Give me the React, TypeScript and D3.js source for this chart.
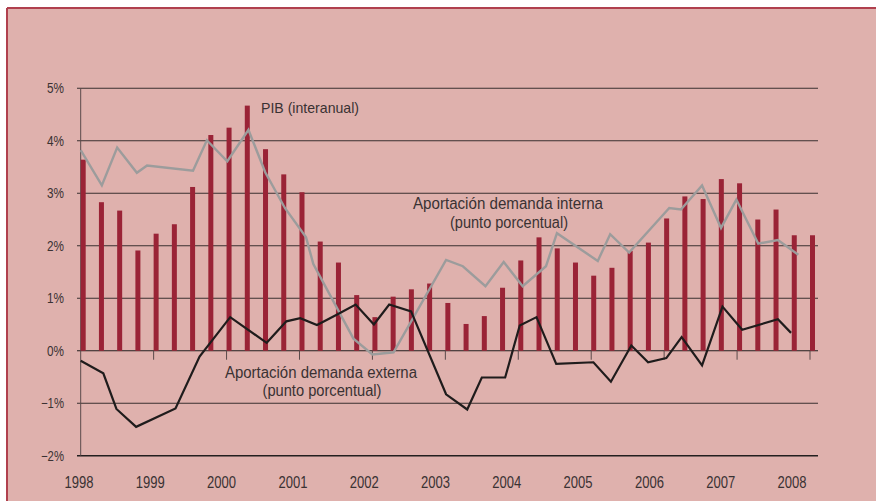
import * as d3 from 'd3';
import { useRef, useEffect } from 'react';

// PIB interanual, trimestral 1998T1 - 2008T1
const pib = [3.64, 2.83, 2.67, 1.91, 2.23, 2.41, 3.12, 4.11, 4.25, 4.67, 3.84, 3.36, 3.02, 2.08, 1.68,
  1.06, 0.64, 1.03, 1.17, 1.28, 0.91, 0.51, 0.66, 1.20, 1.72, 2.16, 1.95, 1.68, 1.43, 1.58, 1.90,
  2.06, 2.52, 2.94, 2.89, 3.27, 3.19, 2.50, 2.69, 2.20, 2.20];

// Aportación demanda interna (fecha decimal, punto porcentual)
const internaFechas = [1998.0, 1998.29, 1998.5, 1998.77, 1998.91, 1999.54, 1999.73, 2000.01, 2000.30, 2000.53,
  2000.80, 2001.09, 2001.19, 2001.74, 2002.0, 2002.29, 2003.01, 2003.24, 2003.55, 2003.80, 2004.06, 2004.38,
  2004.53, 2005.09, 2005.26, 2005.52, 2006.07, 2006.23, 2006.52, 2006.78, 2006.99, 2007.29, 2007.56, 2007.84];
const internaValores = [3.82, 3.15, 3.87, 3.39, 3.53, 3.43, 4.01, 3.61, 4.21, 3.40, 2.72, 2.16, 1.65, 0.23,
  -0.07, -0.03, 1.73, 1.61, 1.23, 1.69, 1.23, 1.61, 2.24, 1.71, 2.22, 1.87, 2.72, 2.69, 3.15, 2.34, 2.88,
  2.04, 2.11, 1.83];

// Aportación demanda externa
const externaFechas = [1998.0, 1998.31, 1998.49, 1998.76, 1999.30, 1999.63, 2000.05, 2000.55, 2000.82, 2001.01,
  2001.24, 2001.53, 2001.77, 2002.02, 2002.23, 2002.53, 2003.01, 2003.30, 2003.50, 2003.82, 2004.02, 2004.25,
  2004.52, 2005.03, 2005.27, 2005.55, 2005.78, 2006.03, 2006.24, 2006.52, 2006.80, 2007.07, 2007.56, 2007.74];
const externaValores = [-0.19, -0.43, -1.11, -1.45, -1.10, -0.11, 0.64, 0.15, 0.56, 0.62, 0.49, 0.70, 0.88,
  0.50, 0.88, 0.75, -0.83, -1.12, -0.51, -0.51, 0.48, 0.64, -0.25, -0.22, -0.59, 0.10, -0.22, -0.14, 0.26,
  -0.28, 0.84, 0.40, 0.60, 0.34];

const years = [1998, 1999, 2000, 2001, 2002, 2003, 2004, 2005, 2006, 2007, 2008];
const yTicks = [-2, -1, 0, 1, 2, 3, 4, 5];

export default function App() {
  const ref = useRef<SVGSVGElement>(null);

  useEffect(() => {
    const width = 876;
    const height = 501;
    const textColor = "#3a3233";

    const x = d3.scaleLinear().domain([1998, 2008]).range([80.7, 810]);
    const xLabel = d3.scaleLinear().domain([1998, 2008]).range([79, 792]);
    const y = d3.scaleLinear().domain([-2, 5]).range([455.7, 88.3]);

    const svg = d3.select(ref.current)
      .attr("width", width)
      .attr("height", height)
      .attr("viewBox", `0 0 ${width} ${height}`)
      .style("position", "absolute")
      .style("left", "0px")
      .style("top", "0px")
      .style("font-family", "'Liberation Sans', Arial, sans-serif");

    svg.selectAll("*").remove();

    // fondo + marco
    svg.append("rect").attr("width", width).attr("height", height).attr("fill", "#ffffff");
    svg.append("rect").attr("x", 7).attr("y", 8).attr("width", width - 7).attr("height", height - 8)
      .attr("fill", "#dfb1ad");
    svg.append("line").attr("x1", 7).attr("x2", width).attr("y1", 8).attr("y2", 8)
      .attr("stroke", "#b0404e").attr("stroke-width", 2);
    svg.append("line").attr("x1", 7).attr("x2", 7).attr("y1", 8).attr("y2", height)
      .attr("stroke", "#b0404e").attr("stroke-width", 2);

    // rejilla horizontal
    svg.append("g")
      .selectAll("line")
      .data(yTicks)
      .join("line")
        .attr("x1", 77)
        .attr("x2", 818)
        .attr("y1", d => y(d))
        .attr("y2", d => y(d))
        .attr("stroke", d => d === 0 || d === -2 ? "#231f1f" : "#3a3030")
        .attr("stroke-width", d => d === -2 ? 1.6 : 1.1);

    // eje vertical
    svg.append("line")
      .attr("x1", x(1998)).attr("x2", x(1998))
      .attr("y1", y(5)).attr("y2", y(-2))
      .attr("stroke", "#5a4a4a").attr("stroke-width", 1);

    // etiquetas eje y
    svg.append("g")
      .selectAll("text")
      .data(yTicks)
      .join("text")
        .attr("x", 64)
        .attr("y", d => y(d))
        .attr("dy", "0.35em")
        .attr("text-anchor", "end")
        .attr("font-size", 14)
        .attr("textLength", d => d < 0 ? 23 : 17)
        .attr("lengthAdjust", "spacingAndGlyphs")
        .attr("fill", textColor)
        .text(d => `${d < 0 ? "\u2212" : ""}${Math.abs(d)}%`);

    // barras PIB
    svg.append("g")
      .selectAll("rect")
      .data(pib)
      .join("rect")
        .attr("x", (d, i) => x(1998 + i / 4))
        .attr("y", d => y(d))
        .attr("width", 5)
        .attr("height", d => y(0) - y(d))
        .attr("fill", "#9a2336");

    // marcas de año sobre el eje 0
    svg.append("g")
      .selectAll("line")
      .data(years.slice(1))
      .join("line")
        .attr("x1", d => x(d))
        .attr("x2", d => x(d))
        .attr("y1", y(0))
        .attr("y2", y(0) + 9)
        .attr("stroke", "#5a4a4a")
        .attr("stroke-width", 1);

    // etiquetas de años
    svg.append("g")
      .selectAll("text")
      .data(years)
      .join("text")
        .attr("x", d => xLabel(d))
        .attr("y", 488)
        .attr("text-anchor", "middle")
        .attr("font-size", 16)
        .attr("textLength", 29)
        .attr("lengthAdjust", "spacingAndGlyphs")
        .attr("fill", textColor)
        .text(d => d);

    const line = d3.line<[number, number]>()
      .x(d => x(d[0]))
      .y(d => y(d[1]));

    const interna = internaFechas.map((f, i) => [f, internaValores[i]] as [number, number]);
    const externa = externaFechas.map((f, i) => [f, externaValores[i]] as [number, number]);

    svg.append("path")
      .datum(interna)
      .attr("d", line)
      .attr("fill", "none")
      .attr("stroke", "#9c9c9c")
      .attr("stroke-width", 2.4);

    svg.append("path")
      .datum(externa)
      .attr("d", line)
      .attr("fill", "none")
      .attr("stroke", "#1f1c1c")
      .attr("stroke-width", 2.2);

    // anotaciones
    const notes = [
      { x: 261, y: 113, anchor: "start", size: 15, len: 98, text: "PIB (interanual)" },
      { x: 508, y: 209, anchor: "middle", size: 16, len: 190, text: "Aportación demanda interna" },
      { x: 509, y: 228, anchor: "middle", size: 16, len: 118, text: "(punto porcentual)" },
      { x: 321, y: 378, anchor: "middle", size: 16, len: 192, text: "Aportación demanda externa" },
      { x: 322, y: 396, anchor: "middle", size: 16, len: 119, text: "(punto porcentual)" },
    ];
    svg.append("g")
      .selectAll("text")
      .data(notes)
      .join("text")
        .attr("x", d => d.x)
        .attr("y", d => d.y)
        .attr("text-anchor", d => d.anchor)
        .attr("font-size", d => d.size)
        .attr("textLength", d => d.len)
        .attr("lengthAdjust", "spacingAndGlyphs")
        .attr("fill", textColor)
        .text(d => d.text);
  }, []);

  return (
    <div>
      <svg ref={ref}></svg>
    </div>
  );
}
